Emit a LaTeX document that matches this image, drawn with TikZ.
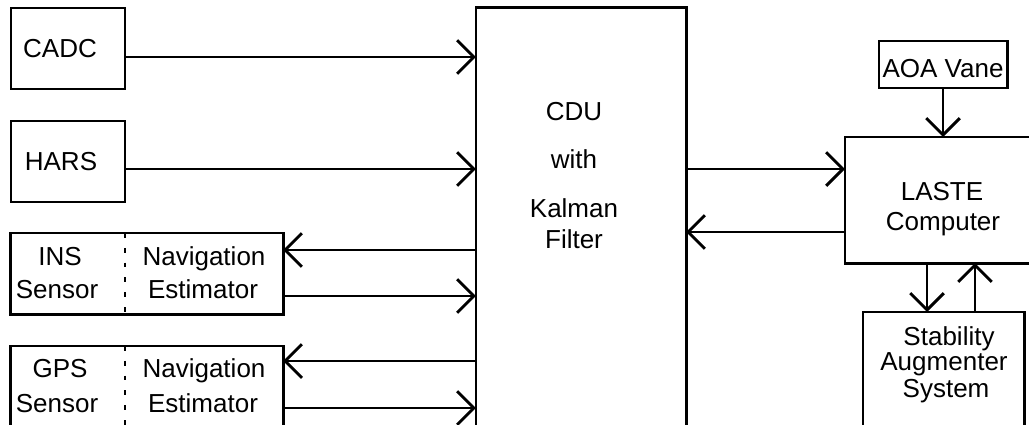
\documentclass[tikz,border=0pt]{standalone}
\usepackage{fontspec}
\setmainfont{Liberation Sans}
\usetikzlibrary{arrows.meta}
\begin{document}
\begin{tikzpicture}[x=0.025cm,y=-0.025cm,
  box/.style={draw,line width=2.1pt,inner sep=0pt,outer sep=0pt},
  txt/.style={inner sep=0pt,anchor=base,font=\fontsize{18.5}{22}\selectfont},
  arr/.style={line width=2.1pt,-{Straight Barb[length=0.42cm,width=0.84cm,line width=2.1pt]}},
  divider/.style={line width=1pt,dash pattern=on 0.12cm off 0.25cm}]
\useasboundingbox (0,0) rectangle (1029,424);
% boxes
\node[box,minimum width=2.85cm,minimum height=2.025cm] (cadc) at (68,48.5) {};
\node[box,minimum width=2.85cm,minimum height=2.025cm] (hars) at (68,161.5) {};
\node[box,minimum width=6.8cm,minimum height=2.025cm] (ins) at (147,273.5) {};
\node[box,minimum width=6.8cm,minimum height=2.025cm] (gps) at (147,386.5) {};
\node[box,minimum width=5.25cm,minimum height=10.55cm] (cdu) at (581,219) {};
\node[box,minimum width=3.2cm,minimum height=1.175cm] (aoa) at (943,64.5) {};
\node[box,minimum width=4.875cm,minimum height=3.15cm] (laste) at (942.5,200) {};
\node[box,minimum width=4.025cm,minimum height=3cm] (sas) at (943.5,372) {};
% dividers
\draw[divider] (ins.north -| 125,0) -- (ins.south -| 125,0);
\draw[divider] (gps.north -| 125,0) -- (gps.south -| 125,0);
% texts
\node[txt] (tcadc) at (60,57) {CADC};
\node[txt] (thars) at (61,170) {HARS};
\node[txt] (tins1) at (60,265) {INS};
\node[txt] (tins2) at (57,298) {Sensor};
\node[txt] (tnav1) at (204,265) {Navigation};
\node[txt] (tnav2) at (203,298) {Estimator};
\node[txt] (tgps1) at (60,377) {GPS};
\node[txt] (tgps2) at (57,412) {Sensor};
\node[txt] (tnav3) at (204,377) {Navigation};
\node[txt] (tnav4) at (203,412) {Estimator};
\node[txt] (tcdu1) at (574,120) {CDU};
\node[txt] (tcdu2) at (574,168) {with};
\node[txt] (tcdu3) at (574,217) {Kalman};
\node[txt] (tcdu4) at (574,248) {Filter};
\node[txt] (taoa) at (943,77) {AOA Vane};
\node[txt] (tlaste1) at (942,200) {LASTE};
\node[txt] (tlaste2) at (943,230) {Computer};
\node[txt] (tsas1) at (949,345) {Stability};
\node[txt] (tsas2) at (944,370) {Augmenter};
\node[txt] (tsas3) at (946,397) {System};
% connectors
\draw[arr] (cadc.east |- 0,57) -- (cdu.west |- 0,57);
\draw[arr] (hars.east |- 0,169) -- (cdu.west |- 0,169);
\draw[arr] (cdu.west |- 0,250) -- (ins.east |- 0,250);
\draw[arr] (ins.east |- 0,296) -- (cdu.west |- 0,296);
\draw[arr] (cdu.west |- 0,361) -- (gps.east |- 0,361);
\draw[arr] (gps.east |- 0,408) -- (cdu.west |- 0,408);
\draw[arr] (cdu.east |- 0,169) -- (laste.west |- 0,169);
\draw[arr] (laste.west |- 0,232) -- (cdu.east |- 0,232);
\draw[arr] (aoa.south -| 943,0) -- (laste.north -| 943,0);
\draw[arr] (laste.south -| 927,0) -- (sas.north -| 927,0);
\draw[arr] (sas.north -| 975,0) -- (laste.south -| 975,0);
\end{tikzpicture}
\end{document}
